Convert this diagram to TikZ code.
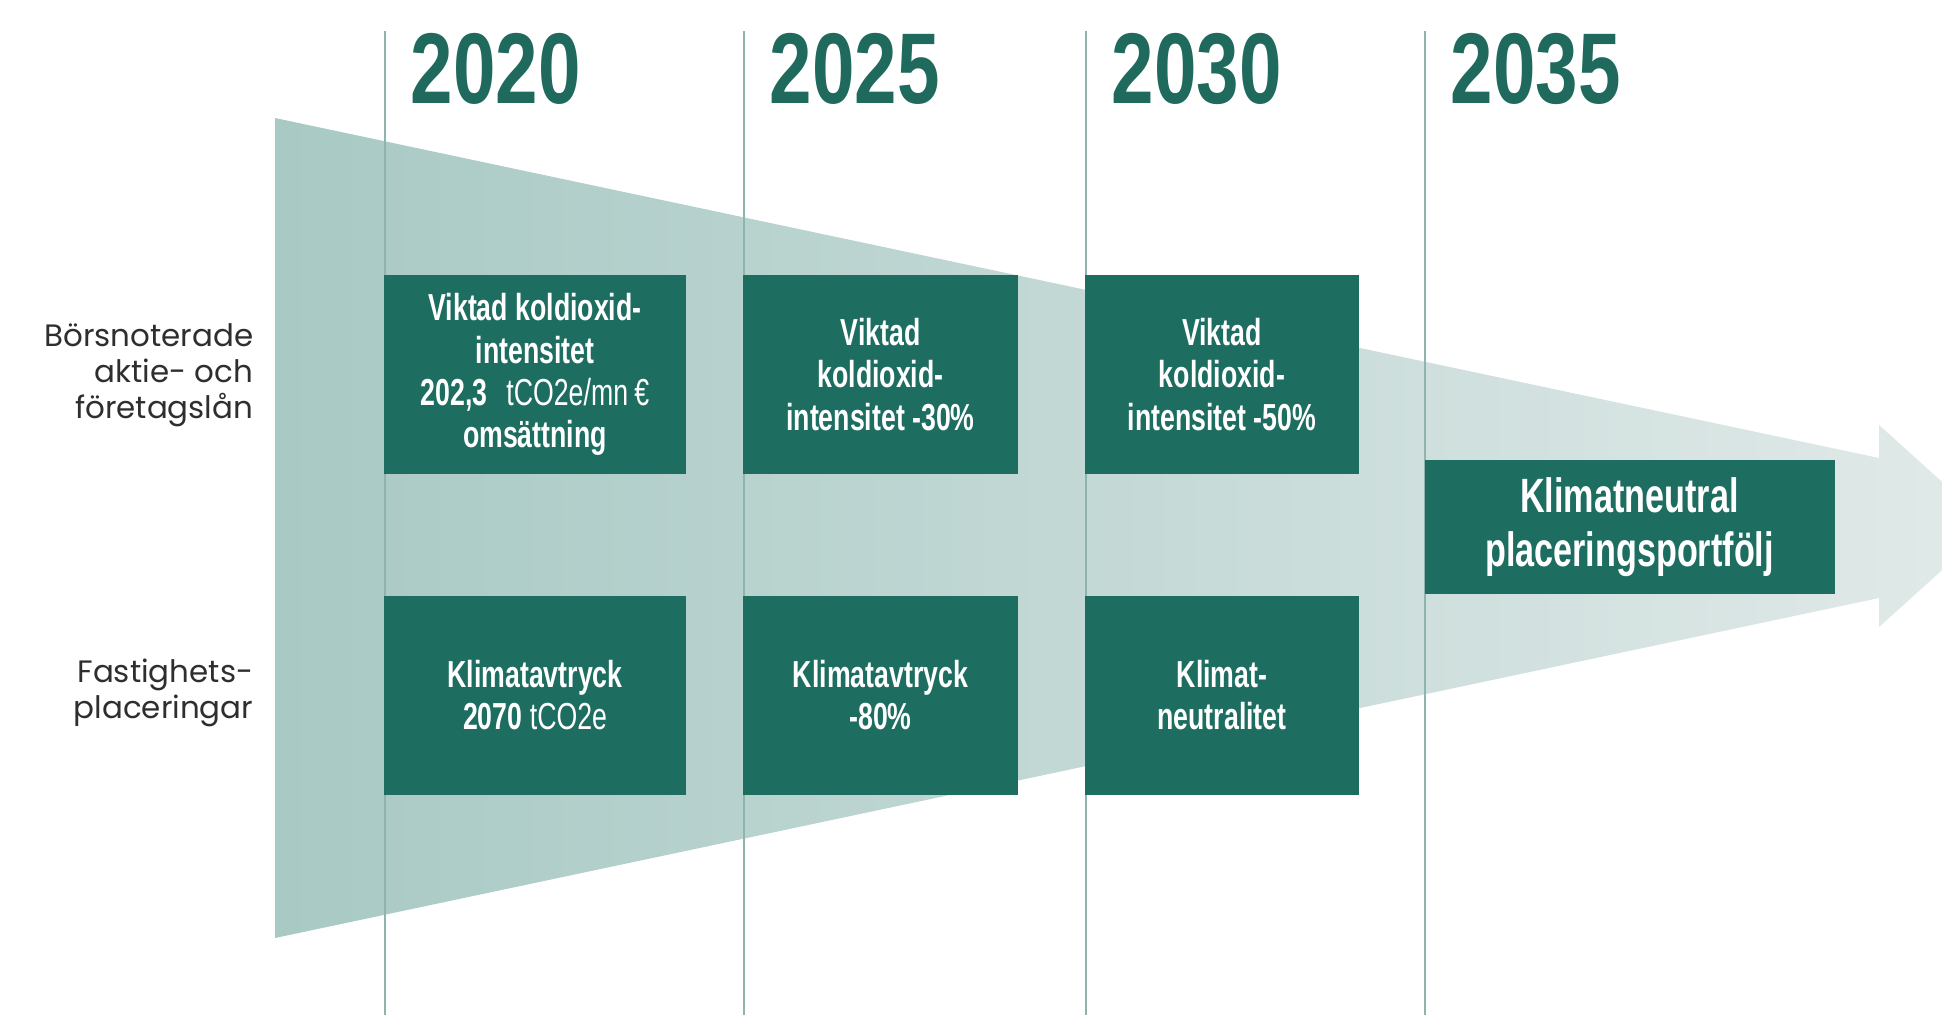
\documentclass[tikz,border=0pt]{standalone}
\usepackage{fontspec}
\setmainfont{Liberation Sans}
\newfontfamily\condfont[FakeStretch=0.71]{Liberation Sans}
\newfontfamily\yearfont[FakeStretch=0.76]{Liberation Sans}
\newfontfamily\labelfont{Poppins}
\usetikzlibrary{positioning}

\definecolor{boxgreen}{HTML}{1E6D61}
\definecolor{yeargreen}{HTML}{1F6A5D}
\definecolor{funnelleft}{HTML}{A8C9C4}
\definecolor{funnelright}{HTML}{E1EAE9}
\definecolor{gridline}{HTML}{8FB3AD}
\definecolor{labelgray}{HTML}{2E2E2E}

\begin{document}
\begin{tikzpicture}[x=0.1mm, y=-0.1mm,
  yearlabel/.style={anchor=base west, inner sep=0pt, text=yeargreen,
    font=\yearfont\bfseries\fontsize{28.6}{30}\selectfont},
  rowlabel/.style={anchor=east, align=right, inner sep=0pt, text=labelgray,
    font=\labelfont\fontsize{8.8}{10.2}\selectfont},
  goalbox/.style={fill=boxgreen, text=white, align=center, inner sep=0pt,
    minimum height=199*\u, font=\condfont\bfseries\fontsize{10.7}{12}\selectfont}]

\def\u{0.1mm};
\useasboundingbox (0,0) rectangle (1942,1015);
\clip (0,0) rectangle (1942,1015);

% funnel narrowing into an arrow
\shade[left color=funnelleft, right color=funnelright]
  (275,118) -- (1879,458) -- (1879,425) -- (1991,526) -- (1879,627)
  -- (1879,598) -- (275,938) -- cycle;

% time axis
\foreach \x/\yr in {385/2020, 744/2025, 1086/2030, 1425/2035}{
  \draw[gridline, line width=0.6pt] (\x,31) -- (\x,1015);
  \node[yearlabel] (y\yr) at (\x+25,103) {\yr};
}

% row labels
\node[rowlabel] (listed) at (254,375) {Börsnoterade\\aktie- och\\företagslån};
\node[rowlabel] (realestate) at (254,693) {Fastighets-\\placeringar};

% targets
\def\ra{374.5};
\def\rb{695};
\node[goalbox, minimum width=302*\u] (co2a) at (535,\ra)
  {Viktad koldioxid-\\intensitet\\202,3\enspace{\mdseries tCO2e/mn\,€}\\omsättning};
\node[goalbox, minimum width=275*\u] (co2b) at (880.5,\ra)
  {Viktad\\koldioxid-\\intensitet -30\%};
\node[goalbox, minimum width=274*\u] (co2c) at (1222,\ra)
  {Viktad\\koldioxid-\\intensitet -50\%};

\node[goalbox, minimum width=302*\u] (fpa) at (535,\rb)
  {Klimatavtryck\\2070 {\mdseries tCO2e}};
\node[goalbox, minimum width=275*\u] (fpb) at (880.5,\rb)
  {Klimatavtryck\\-80\%};
\node[goalbox, minimum width=274*\u] (fpc) at (1222,\rb)
  {Klimat-\\neutralitet};

\node[goalbox, minimum width=410*\u, minimum height=134*\u,
  font=\condfont\bfseries\fontsize{13.7}{15.4}\selectfont] (neutral) at (1629.5,527)
  {Klimatneutral\\placeringsportfölj};

\end{tikzpicture}
\end{document}
